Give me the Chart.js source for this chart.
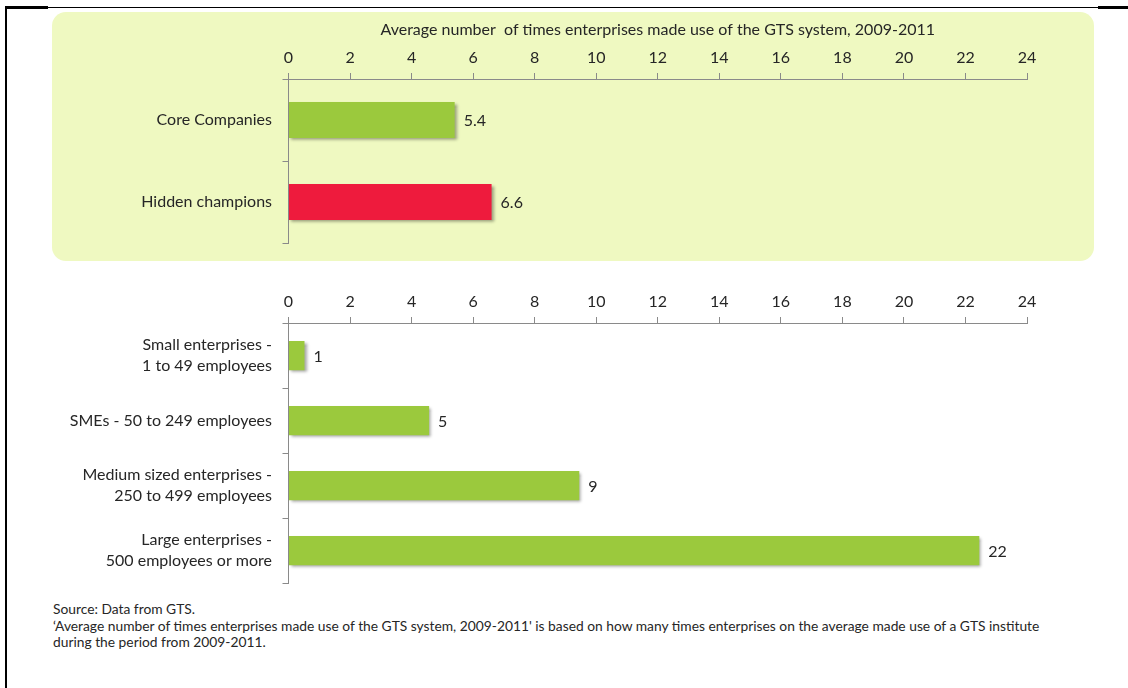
<!DOCTYPE html>
<html>
<head>
<meta charset="utf-8">
<script src="https://cdn.jsdelivr.net/npm/chart.js@4.4.1/dist/chart.umd.min.js"></script>
<style>
  html, body { margin: 0; padding: 0; background: #fff; }
  body { width: 1128px; height: 688px; position: relative; overflow: hidden; font-family: Lato, "Open Sans", sans-serif; color: #262626; }
  .frame-left { position: absolute; left: 5px; top: 7px; width: 2px; height: 681px; background: #000; }
  .frame-top { position: absolute; left: 5px; top: 7px; width: 1123px; height: 1px; background: #000; }
  .frame-tl { position: absolute; left: 5px; top: 6px; width: 43px; height: 3px; background: #000; }
  .frame-tr { position: absolute; left: 1098px; top: 6px; width: 30px; height: 3px; background: #000; }
  .panel { position: absolute; left: 52px; top: 12px; width: 1042px; height: 249px; background: #EFF9C1; border-radius: 14px; }
  #c1 { position: absolute; left: 52px; top: 12px; }
  #c2 { position: absolute; left: 52px; top: 270px; }
  .foot { position: absolute; left: 53px; top: 601px; font-size: 13.8px; line-height: 16.5px; color: #262626; white-space: nowrap; }
</style>
</head>
<body>
<div class="frame-left"></div>
<div class="frame-top"></div>
<div class="frame-tl"></div>
<div class="frame-tr"></div>
<div class="panel"></div>
<canvas id="c1" width="1042" height="249"></canvas>
<canvas id="c2" width="1042" height="330"></canvas>
<div class="foot" id="foot"></div>
<script>
// ---- data ----
const axisTitle = "Average number  of times enterprises made use of the GTS system, 2009-2011";
const topCategories = ["Core Companies", "Hidden champions"];
const topValues = [5.4, 6.6];
const topLabels = ["5.4", "6.6"];
const topColors = ["#9BC93D", "#EE1B3D"];

const bottomCategories = [
  ["Small enterprises -", "1 to 49 employees"],
  ["SMEs - 50 to 249 employees"],
  ["Medium sized enterprises -", "250 to 499 employees"],
  ["Large enterprises -", "500 employees or more"]
];
const bottomValues = [0.52, 4.57, 9.45, 22.45];
const bottomLabels = ["1", "5", "9", "22"];
const bottomColor = "#9BC93D";

const xTicks = [0, 2, 4, 6, 8, 10, 12, 14, 16, 18, 20, 22, 24];

const footLines = [
  "Source: Data from GTS.",
  "\u2018Average number of times enterprises made use of the GTS system, 2009-2011' is based on how many times enterprises on the average made use of a GTS institute",
  "during the period from 2009-2011."
];

// ---- rendering ----
const FONT = "Lato, 'Open Sans', sans-serif";
const FS = 16;
const TEXT = "#262626";
const AXIS = "#8A8A8A";

document.getElementById('foot').innerHTML = footLines.map(l => l.replace(/&/g,'&amp;').replace(/</g,'&lt;')).join('<br>');

const barDecor = {
  id: 'barDecor',
  beforeDatasetsDraw(chart) {
    const ctx = chart.ctx;
    ctx.save();
    ctx.shadowColor = 'rgba(0,0,0,0.38)';
    ctx.shadowBlur = 3;
    ctx.shadowOffsetX = 2;
    ctx.shadowOffsetY = 2;
  },
  afterDatasetsDraw(chart) {
    const ctx = chart.ctx;
    ctx.restore();
    const labels = chart.options.plugins.barDecor.labels;
    const meta = chart.getDatasetMeta(0);
    ctx.save();
    ctx.font = FS + "px " + FONT;
    ctx.fillStyle = TEXT;
    ctx.textAlign = 'left';
    ctx.textBaseline = 'middle';
    meta.data.forEach((bar, i) => {
      ctx.fillText(labels[i], bar.x + 9, bar.y + 1);
    });
    ctx.restore();
  }
};

function makeChart(id, cats, vals, colors, labels, opts) {
  return new Chart(document.getElementById(id), {
    type: 'bar',
    data: {
      labels: cats,
      datasets: [{
        data: vals,
        backgroundColor: colors,
        borderWidth: 0,
        categoryPercentage: 1,
        barPercentage: opts.barPct
      }]
    },
    plugins: [barDecor],
    options: {
      indexAxis: 'y',
      responsive: false,
      animation: false,
      events: [],
      layout: { padding: { left: 0, right: 67, top: 0, bottom: opts.bottomPad } },
      plugins: {
        legend: { display: false },
        tooltip: { enabled: false },
        barDecor: { labels: labels }
      },
      scales: {
        x: {
          position: 'top',
          min: 0, max: 24,
          afterBuildTicks(scale) { scale.ticks = xTicks.map(v => ({ value: v })); },
          afterFit(scale) { scale.height = opts.xHeight; },
          grid: { drawOnChartArea: false, drawTicks: true, tickLength: 6, color: AXIS, tickColor: AXIS },
          border: { display: true, color: AXIS, width: 1 },
          ticks: { color: TEXT, font: { family: FONT, size: FS }, padding: 6 },
          title: opts.title ? { display: true, text: opts.title, color: TEXT, font: { family: FONT, size: FS }, padding: { top: 8.5, bottom: 0 } } : { display: false }
        },
        y: {
          afterFit(scale) { scale.width = 236.5; scale.paddingTop = 0; scale.paddingBottom = 0; },
          grid: { drawOnChartArea: false, drawTicks: true, tickLength: 6, color: AXIS, tickColor: AXIS, offset: true },
          border: { display: true, color: AXIS, width: 1 },
          ticks: { color: TEXT, font: { family: FONT, size: FS, lineHeight: 1.3 }, padding: 10.5 }
        }
      }
    }
  });
}

makeChart('c1', topCategories, topValues, topColors, topLabels, { barPct: 0.44, bottomPad: 18, xHeight: 67, title: axisTitle });
makeChart('c2', bottomCategories, bottomValues, bottomColor, bottomLabels, { barPct: 0.45, bottomPad: 17, xHeight: 53, title: null });
</script>
</body>
</html>
